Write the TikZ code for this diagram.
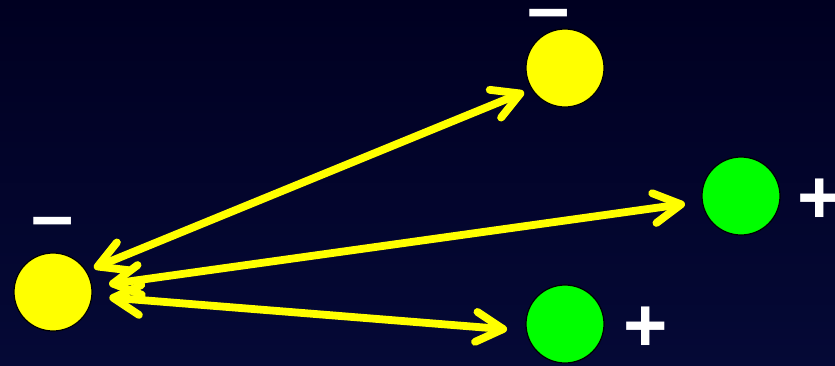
\documentclass[tikz,border=0pt]{standalone}
\usepackage{fontspec}
\setmainfont{Liberation Sans}
\usetikzlibrary{arrows.meta,positioning}

\definecolor{nightblue}{RGB}{0,0,33}
\definecolor{midblue}{RGB}{0,1,38}
\definecolor{deepblue}{RGB}{5,9,54}
\definecolor{chargeyellow}{RGB}{255,255,0}
\definecolor{chargegreen}{RGB}{0,255,0}

\begin{document}
\begin{tikzpicture}[
    x=1pt, y=-1pt,
    charge/.style={circle, draw=black, line width=1.2pt, minimum size=78pt,
                   inner sep=0pt},
    negcharge/.style={charge, fill=chargeyellow},
    poscharge/.style={charge, fill=chargegreen},
    sign/.style={text=white, inner sep=0pt, anchor=base,
                 font=\fontsize{76}{76}\selectfont\bfseries},
    barb/.tip={Straight Barb[length=27pt,width=30pt,round]},
    force/.style={barb-barb, chargeyellow, line width=7.8pt},
  ]
    % background
    \fill[top color=nightblue, middle color=midblue, bottom color=deepblue]
      (0,0) rectangle (835,365);
    \useasboundingbox (0,0) rectangle (835,365);

    % charges
    \node[negcharge] (probe) at (53,292) {};
    \node[negcharge] (top) at (565,68) {};
    \node[poscharge] (right) at (741,196) {};
    \node[poscharge] (low) at (565,324) {};

    % signs
    \node[sign] (probesign) at (53,241) {–};
    \node[sign] (topsign) at (549,33) {–};
    \node[sign] (rightsign) at (820,223) {+};
    \node[sign] (lowsign) at (646,351) {+};

    % forces
    \draw[force, shorten <=8pt, shorten >=8pt] (probe.32) -- (top.212);
    \draw[force, shorten <=17pt, shorten >=17pt] (probe) -- (right);
    \draw[force, shorten <=17pt, shorten >=19pt] (probe.-6) -- (low.190);
\end{tikzpicture}
\end{document}
